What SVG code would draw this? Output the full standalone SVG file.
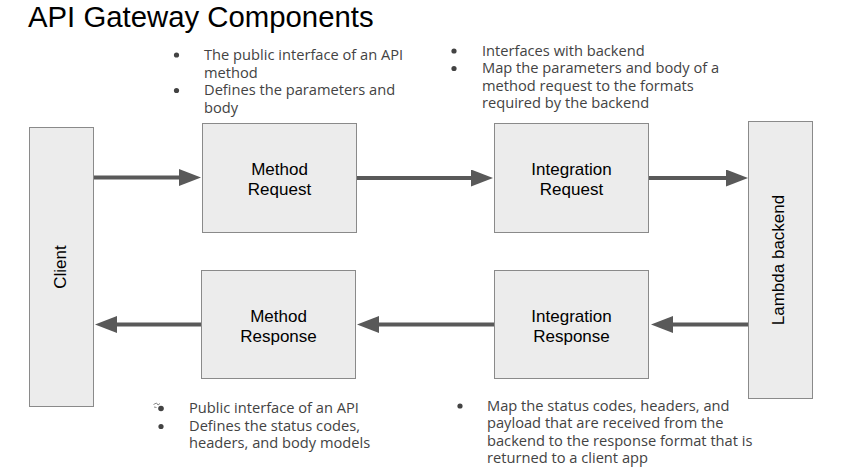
<svg xmlns="http://www.w3.org/2000/svg" width="848" height="473" viewBox="0 0 848 473">
  <style>
    .box { fill: #ececec; stroke: #8a8a8a; stroke-width: 1; }
    .lbl { font-family: "Liberation Sans", Arial, sans-serif; font-size: 17px; fill: #000; text-anchor: middle; }
    .note { font-family: "Open Sans", "Noto Sans", sans-serif; font-size: 14.67px; fill: #434343; }
    .dot { fill: #434343; }
    .conn { stroke: #595959; stroke-width: 4; fill: none; marker-end: url(#ah); }
  </style>
  <defs>
    <marker id="ah" markerUnits="userSpaceOnUse" markerWidth="23" markerHeight="18" refX="1" refY="8.5" orient="auto">
      <path d="M0,0 L22,8.5 L0,17 Z" fill="#595959"/>
    </marker>
  </defs>
  <rect width="848" height="473" fill="#ffffff"/>

  <text x="28" y="27" font-family="'Liberation Sans', Arial, sans-serif" font-size="29.33" fill="#000">API Gateway Components</text>

  <g id="connectors">
    <line class="conn" x1="93" y1="177.5" x2="180" y2="177.5"/>
    <line class="conn" x1="356" y1="178" x2="472" y2="178"/>
    <line class="conn" x1="649" y1="178" x2="727" y2="178"/>
    <line class="conn" x1="752" y1="324.5" x2="672" y2="324.5"/>
    <line class="conn" x1="494" y1="324.5" x2="378" y2="324.5"/>
    <line class="conn" x1="201" y1="324.5" x2="116" y2="324.5"/>
  </g>

  <g id="client">
    <rect class="box" x="29.5" y="127.5" width="64" height="279"/>
    <text class="lbl" transform="translate(66,267) rotate(-90)" x="0" y="0">Client</text>
  </g>

  <g id="method-request">
    <rect class="box" x="202.5" y="123.5" width="154" height="109"/>
    <text class="lbl" x="279.5" y="174.5">Method</text>
    <text class="lbl" x="279.5" y="195">Request</text>
  </g>

  <g id="integration-request">
    <rect class="box" x="494.5" y="123.5" width="154" height="109"/>
    <text class="lbl" x="571.5" y="175">Integration</text>
    <text class="lbl" x="571.5" y="195">Request</text>
  </g>

  <g id="lambda-backend">
    <rect class="box" x="748.5" y="121.5" width="64" height="277"/>
    <text class="lbl" transform="translate(784,260) rotate(-90)" x="0" y="0">Lambda backend</text>
  </g>

  <g id="method-response">
    <rect class="box" x="201.5" y="270.5" width="154" height="108"/>
    <text class="lbl" x="278.5" y="321.5">Method</text>
    <text class="lbl" x="278.5" y="341.5">Response</text>
  </g>

  <g id="integration-response">
    <rect class="box" x="494.5" y="270.5" width="154" height="108"/>
    <text class="lbl" x="571.5" y="321.5">Integration</text>
    <text class="lbl" x="571.5" y="341.5">Response</text>
  </g>

  <g id="note-method-request">
    <circle class="dot" cx="176.5" cy="55" r="2.6"/>
    <circle class="dot" cx="176.5" cy="90.5" r="2.6"/>
    <text class="note" x="204" y="60">The public interface of an API</text>
    <text class="note" x="204" y="77.5">method</text>
    <text class="note" x="204" y="95">Defines the parameters and</text>
    <text class="note" x="204" y="112.5">body</text>
  </g>

  <g id="note-integration-request">
    <circle class="dot" cx="454" cy="51" r="2.6"/>
    <circle class="dot" cx="454" cy="68.5" r="2.6"/>
    <text class="note" x="482" y="55.5">Interfaces with backend</text>
    <text class="note" x="482" y="73">Map the parameters and body of a</text>
    <text class="note" x="482" y="90.5">method request to the formats</text>
    <text class="note" x="482" y="108">required by the backend</text>
  </g>

  <g id="note-method-response">
    <circle class="dot" cx="161" cy="408.5" r="2.8"/>
    <path d="M153.5,404.5 l3,-1.5 l1.5,2 l2,-1.5 M154,407 l2.5,0.5" stroke="#8a8a8a" stroke-width="1" fill="none"/>
    <circle class="dot" cx="161" cy="426.5" r="2.6"/>
    <text class="note" x="189" y="413">Public interface of an API</text>
    <text class="note" x="189" y="430.5">Defines the status codes,</text>
    <text class="note" x="189" y="448">headers, and body models</text>
  </g>

  <g id="note-integration-response">
    <circle class="dot" cx="460" cy="406" r="2.6"/>
    <text class="note" x="487" y="410.5">Map the status codes, headers, and</text>
    <text class="note" x="487" y="428">payload that are received from the</text>
    <text class="note" x="487" y="445.5">backend to the response format that is</text>
    <text class="note" x="487" y="463">returned to a client app</text>
  </g>
</svg>
